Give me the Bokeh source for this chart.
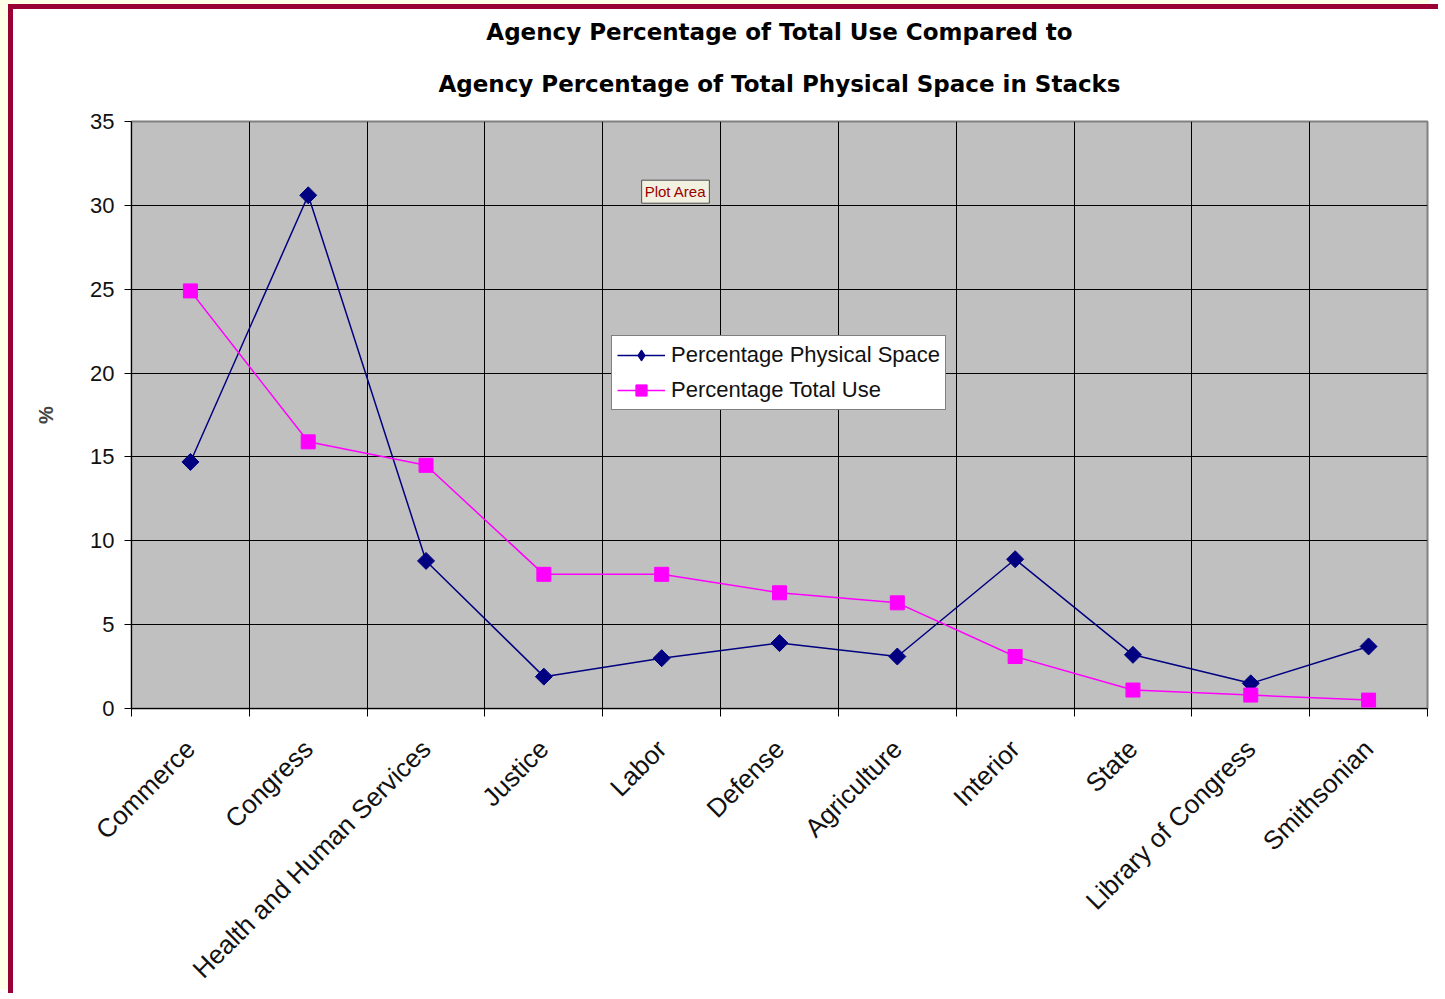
from math import pi
from bokeh.plotting import figure
from bokeh.models import (FactorRange, Range1d, LinearAxis, CategoricalAxis, FixedTicker,
                          Grid, Legend, LegendItem, Label, ColumnDataSource, Title)
from bokeh.embed import file_html
from bokeh.resources import INLINE

categories = ["Commerce", "Congress", "Health and Human Services", "Justice", "Labor",
              "Defense", "Agriculture", "Interior", "State", "Library of Congress", "Smithsonian"]
physical_space = [14.7, 30.6, 8.8, 1.9, 3.0, 3.9, 3.1, 8.9, 3.2, 1.5, 3.7]
total_use = [24.9, 15.9, 14.5, 8.0, 8.0, 6.9, 6.3, 3.1, 1.1, 0.8, 0.5]
series_names = ["Percentage Physical Space", "Percentage Total Use"]
y_ticks = [0, 5, 10, 15, 20, 25, 30, 35]
title_lines = ["Agency Percentage of Total Use Compared to",
               "Agency Percentage of Total Physical Space in Stacks"]
y_label = "%"

FONT = "Liberation Sans"
TITLE_FONT = "DejaVu Sans"
NAVY = "#000080"
MAGENTA = "#FF00FF"

src = ColumnDataSource(dict(cat=categories, phys=physical_space, use=total_use))
n = len(categories)

p = figure(width=1430, height=989,
           x_range=FactorRange(factors=categories, range_padding=0, factor_padding=0),
           y_range=Range1d(0, 35),
           output_backend="svg", toolbar_location=None, x_axis_location=None,
           min_border_left=118, min_border_top=112, min_border_right=16, min_border_bottom=290,
           background_fill_color="#C0C0C0", border_fill_color="white",
           outline_line_color="#808080", outline_line_width=2)
p.styles = {"border-left": "5px solid #990033", "border-top": "5px solid #990033",
            "margin-left": "8px", "margin-top": "4px",
            "box-shadow": "-8px -4px 0 0 #FFFFE8"}

# title: two centred lines
p.title.text = title_lines[0]
p.title.align = "center"
p.title.text_font = TITLE_FONT
p.title.text_font_style = "bold"
p.title.text_font_size = "23px"
p.title.text_color = "black"
p.title.standoff = 0
sub = Title(text=title_lines[1], align="center", text_font=TITLE_FONT,
            text_font_style="bold", text_font_size="23px", text_color="black", standoff=49)
p.add_layout(sub, "above")

# y axis
p.yaxis.ticker = FixedTicker(ticks=y_ticks)
p.yaxis.major_tick_out = 7
p.yaxis.major_tick_in = 0
p.yaxis.minor_tick_line_color = None
p.yaxis.axis_line_color = "black"
p.yaxis.major_tick_line_color = "black"
p.yaxis.major_label_text_font = FONT
p.yaxis.major_label_text_font_size = "22px"
p.yaxis.major_label_text_color = "#111111"
p.yaxis.major_label_standoff = 10
p.yaxis.axis_label = y_label
p.yaxis.axis_label_text_font = FONT
p.yaxis.axis_label_text_font_style = "bold"
p.yaxis.axis_label_text_font_size = "20px"
p.yaxis.axis_label_standoff = 30

p.ygrid.ticker = FixedTicker(ticks=y_ticks[:-1])
p.ygrid.grid_line_color = "black"
p.ygrid.grid_line_width = 1
p.xgrid.visible = False

# category boundaries (synthetic coordinates of the factor range): tick marks + grid
bound_ax = LinearAxis(ticker=FixedTicker(ticks=[], minor_ticks=list(range(n + 1))),
                      major_tick_line_color=None, minor_tick_out=8, minor_tick_in=0,
                      minor_tick_line_color="black", minor_tick_line_width=1,
                      axis_line_color="black")
p.add_layout(bound_ax, "below")
p.add_layout(Grid(dimension=0, ticker=FixedTicker(ticks=list(range(1, n))),
                  grid_line_color="black", grid_line_width=1))

cat_ax = CategoricalAxis(axis_line_color=None, major_tick_line_color=None,
                         major_tick_out=0, major_tick_in=0,
                         major_label_orientation=pi / 4,
                         major_label_text_font=FONT, major_label_text_font_size="26px",
                         major_label_text_color="#111111", major_label_standoff=28)
p.add_layout(cat_ax, "below")

# series
l1 = p.line("cat", "phys", source=src, line_color=NAVY, line_width=1.5)
s1 = p.scatter("cat", "phys", source=src, marker="square", angle=pi / 4, size=12,
               fill_color=NAVY, line_color=NAVY)
l2 = p.line("cat", "use", source=src, line_color=MAGENTA, line_width=1.5)
s2 = p.scatter("cat", "use", source=src, marker="square", size=14,
               fill_color=MAGENTA, line_color=MAGENTA)
# legend swatch for the diamond (legend glyphs are not rotated); its point is not drawn
key1 = p.scatter(x=[categories[0]], y=[float("nan")], marker="diamond", size=14,
                 fill_color=NAVY, line_color=NAVY)

legend = Legend(items=[LegendItem(label=series_names[0], renderers=[l1, key1]),
                       LegendItem(label=series_names[1], renderers=[l2, s2])],
                location=(480, 298), orientation="vertical",
                border_line_color="black", border_line_width=1,
                background_fill_color="white", background_fill_alpha=1,
                label_text_font=FONT, label_text_font_size="22px", label_text_color="#111111",
                glyph_width=48, glyph_height=28, label_height=28, spacing=7,
                padding=5, margin=0, label_standoff=6)
p.add_layout(legend)

tip = Label(x=4.33, y=31.5, text="Plot Area",
            text_font=FONT, text_font_size="15px", text_color="#990000",
            text_align="left", text_baseline="top",
            background_fill_color="#F2F0E0", border_line_color="#505050", padding=3)
p.add_layout(tip)

open("out.html", "w").write(file_html(p, INLINE))
